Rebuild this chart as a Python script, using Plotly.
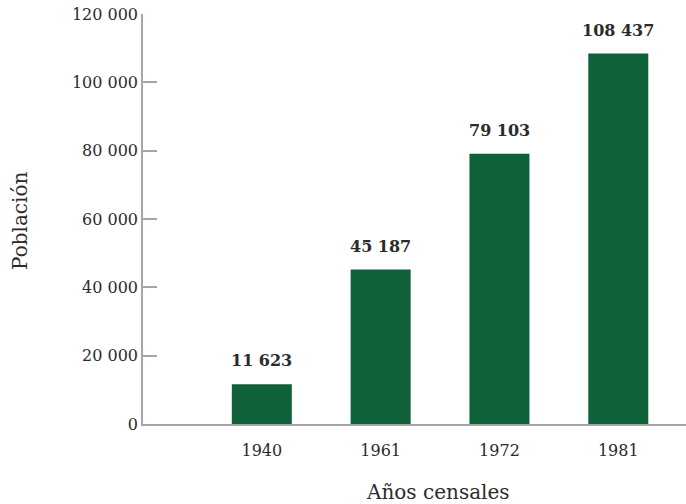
import plotly.graph_objects as go

# Census population figures
years = ["1940", "1961", "1972", "1981"]
population = [11623, 45187, 79103, 108437]
y_ticks = [0, 20000, 40000, 60000, 80000, 100000, 120000]

def fmt(v):
    return f"{v:,}".replace(",", " ")

BAR = "#0e6139"
TXT = "#2b2b2b"
AX = "#a6a6a6"
FONT = "DejaVu Serif"

fig = go.Figure(
    go.Bar(
        x=years,
        y=population,
        marker=dict(color=BAR, line=dict(width=0)),
        width=0.505,
        cliponaxis=False,
    )
)

# value labels above each bar (category index as x position)
for i, v in enumerate(population):
    fig.add_annotation(
        x=i, y=v, xref="x", yref="y",
        text=f"<b>{fmt(v)}</b>",
        showarrow=False,
        xanchor="center",
        yanchor="bottom",
        yshift=12,
        font=dict(family=FONT, size=16, color=TXT),
    )

# axis titles, positioned in pixels then converted to paper fractions
L, R, T, B, W, H = 143, 0, 14, 80, 686, 504
pw, ph = W - L - R, H - T - B

def px(x, y):
    return (x - L) / pw, (H - B - y) / ph

tx, ty = px(438, 492)
fig.add_annotation(
    x=tx, y=ty, xref="paper", yref="paper",
    xanchor="center", yanchor="middle",
    text="Años censales", showarrow=False,
    font=dict(family=FONT, size=20, color=TXT),
)
tx, ty = px(20, 221)
fig.add_annotation(
    x=tx, y=ty, xref="paper", yref="paper",
    xanchor="center", yanchor="middle",
    text="Población", showarrow=False, textangle=-90,
    font=dict(family=FONT, size=20, color=TXT),
)

fig.update_layout(
    width=W,
    height=H,
    margin=dict(l=L, r=R, t=T, b=B),
    paper_bgcolor="white",
    plot_bgcolor="white",
    showlegend=False,
    font=dict(family=FONT, color=TXT),
)

fig.update_xaxes(
    type="category",
    range=[-1.0, 3.57],
    showline=True,
    linecolor=AX,
    linewidth=1.5,
    ticks="",
    ticklabelstandoff=11,
    tickfont=dict(family=FONT, size=16, color=TXT),
    showgrid=False,
    zeroline=False,
)

fig.update_yaxes(
    range=[0, 120000],
    tickvals=y_ticks,
    ticktext=[fmt(v) for v in y_ticks],
    showline=True,
    linecolor=AX,
    linewidth=1.5,
    ticks="inside",
    ticklen=14,
    tickwidth=1.5,
    tickcolor=AX,
    tickfont=dict(family=FONT, size=16, color=TXT),
    showgrid=False,
    zeroline=False,
)

fig.write_html("out.html")
